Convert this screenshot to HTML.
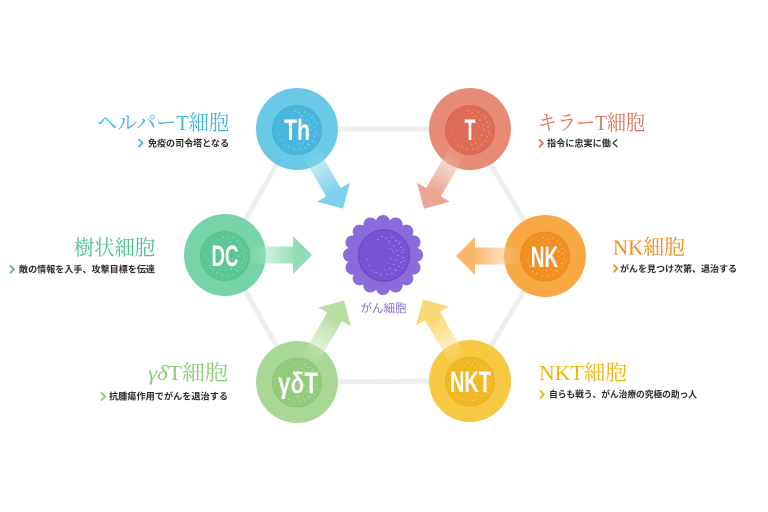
<!DOCTYPE html>
<html><head><meta charset="utf-8">
<style>
html,body{margin:0;padding:0;background:#fff;}
svg{display:block;}
.ttl{font-family:"Liberation Serif","Noto Serif CJK JP",serif;font-size:21px;}
.sub{font-family:"Liberation Sans","Noto Sans CJK JP",sans-serif;font-size:9.2px;font-weight:bold;fill:#2b2b2b;}
.nd{font-family:"Liberation Sans","DejaVu Sans",sans-serif;font-size:30px;font-weight:bold;fill:#fff;}
.chev{fill:none;stroke-width:1.8;stroke-linecap:round;stroke-linejoin:round;}
</style></head>
<body>
<svg width="768" height="512" viewBox="0 0 768 512" xmlns="http://www.w3.org/2000/svg">
<defs>
  <g id="sp" fill="#fff">
    <circle cx="8" cy="-18" r="0.7"/><circle cx="12" cy="-15" r="0.7"/><circle cx="15" cy="-12" r="0.7"/>
    <circle cx="17" cy="-8" r="0.7"/><circle cx="18" cy="-3" r="0.7"/><circle cx="19" cy="2" r="0.7"/>
    <circle cx="17" cy="7" r="0.7"/><circle cx="15" cy="11" r="0.7"/><circle cx="12" cy="15" r="0.7"/>
    <circle cx="8" cy="18" r="0.7"/><circle cx="3" cy="19" r="0.7"/><circle cx="-3" cy="19" r="0.7"/>
    <circle cx="-8" cy="17" r="0.7"/><circle cx="10" cy="-10" r="0.7"/><circle cx="13" cy="-5" r="0.7"/>
    <circle cx="14" cy="0" r="0.7"/><circle cx="12" cy="5" r="0.7"/><circle cx="10" cy="9" r="0.7"/>
    <circle cx="6" cy="13" r="0.7"/><circle cx="5" cy="-14" r="0.7"/><circle cx="2" cy="-17" r="0.7"/>
    <circle cx="-2" cy="-19" r="0.7"/><circle cx="16" cy="-14" r="0.6"/><circle cx="20" cy="-6" r="0.6"/>
    <circle cx="20" cy="5" r="0.6"/><circle cx="18" cy="12" r="0.6"/><circle cx="4" cy="8" r="0.6"/>
    <circle cx="7" cy="3" r="0.6"/><circle cx="9" cy="-4" r="0.6"/><circle cx="-12" cy="15" r="0.6"/>
    <circle cx="-15" cy="10" r="0.6"/><circle cx="6" cy="-7" r="0.6"/><circle cx="11" cy="14" r="0.6"/>
    <circle cx="1" cy="14" r="0.6"/><circle cx="-6" cy="-16" r="0.6"/><circle cx="-17" cy="4" r="0.6"/>
  </g>
  <linearGradient id="gTh" gradientUnits="userSpaceOnUse" x1="25" y1="0" x2="72" y2="0"><stop offset="0" stop-color="#8dd6ef" stop-opacity="0.1"/><stop offset="0.35" stop-color="#8dd6ef" stop-opacity="0.55"/><stop offset="1" stop-color="#7fd0ec"/></linearGradient>
  <linearGradient id="gT" gradientUnits="userSpaceOnUse" x1="25" y1="0" x2="72" y2="0"><stop offset="0" stop-color="#efb2a3" stop-opacity="0.1"/><stop offset="0.35" stop-color="#efb2a3" stop-opacity="0.55"/><stop offset="1" stop-color="#eaa593"/></linearGradient>
  <linearGradient id="gDC" gradientUnits="userSpaceOnUse" x1="25" y1="0" x2="72" y2="0"><stop offset="0" stop-color="#a3e3c4" stop-opacity="0.1"/><stop offset="0.35" stop-color="#a3e3c4" stop-opacity="0.55"/><stop offset="1" stop-color="#8fdcb6"/></linearGradient>
  <linearGradient id="gNK" gradientUnits="userSpaceOnUse" x1="25" y1="0" x2="72" y2="0"><stop offset="0" stop-color="#fbc58a" stop-opacity="0.1"/><stop offset="0.35" stop-color="#fbc58a" stop-opacity="0.55"/><stop offset="1" stop-color="#f9b56a"/></linearGradient>
  <linearGradient id="gGD" gradientUnits="userSpaceOnUse" x1="25" y1="0" x2="72" y2="0"><stop offset="0" stop-color="#c6e6b6" stop-opacity="0.1"/><stop offset="0.35" stop-color="#c6e6b6" stop-opacity="0.55"/><stop offset="1" stop-color="#b7dfa4"/></linearGradient>
  <linearGradient id="gNKT" gradientUnits="userSpaceOnUse" x1="25" y1="0" x2="72" y2="0"><stop offset="0" stop-color="#fbe08e" stop-opacity="0.1"/><stop offset="0.35" stop-color="#fbe08e" stop-opacity="0.55"/><stop offset="1" stop-color="#f9d772"/></linearGradient>
</defs>

<!-- hexagon connectors -->
<polygon points="297,129 470,129 545,256 470,381 297,382 225,255" fill="none" stroke="#eeeeee" stroke-width="5" stroke-linejoin="round"/>

<!-- cancer cell -->
<g fill="#8a6bd9">
  <circle cx="383" cy="255" r="35.3"/>
  <g id="bump"><circle cx="383" cy="222" r="7"/></g>
  <use href="#bump" transform="rotate(22.5 383 255)"/>
  <use href="#bump" transform="rotate(45 383 255)"/>
  <use href="#bump" transform="rotate(67.5 383 255)"/>
  <use href="#bump" transform="rotate(90 383 255)"/>
  <use href="#bump" transform="rotate(112.5 383 255)"/>
  <use href="#bump" transform="rotate(135 383 255)"/>
  <use href="#bump" transform="rotate(157.5 383 255)"/>
  <use href="#bump" transform="rotate(180 383 255)"/>
  <use href="#bump" transform="rotate(202.5 383 255)"/>
  <use href="#bump" transform="rotate(225 383 255)"/>
  <use href="#bump" transform="rotate(247.5 383 255)"/>
  <use href="#bump" transform="rotate(270 383 255)"/>
  <use href="#bump" transform="rotate(292.5 383 255)"/>
  <use href="#bump" transform="rotate(315 383 255)"/>
  <use href="#bump" transform="rotate(337.5 383 255)"/>
</g>
<circle cx="384" cy="255.5" r="25.5" fill="#7853d3" stroke="#6c47c6" stroke-width="1.2"/>
<use href="#sp" x="384" y="255.5" opacity="0.45"/>
<text x="383.5" y="312" text-anchor="middle" textLength="46" lengthAdjust="spacingAndGlyphs" style="font-family:'Liberation Sans','Noto Sans CJK JP',sans-serif;font-size:11.5px;fill:#8a6ad8;">がん細胞</text>

<!-- Th -->
<circle cx="297" cy="129" r="41" fill="#5ec5e4" fill-opacity="0.93"/>
<polygon transform="translate(297 129) rotate(60)" points="25,-8.5 73,-8.5 73,-19 92,0 73,19 73,8.5 25,8.5" fill="url(#gTh)"/>
<circle cx="297" cy="130" r="24.5" fill="#48b7de" stroke="#40acd5" stroke-width="0.8"/>
<use href="#sp" x="297" y="130" opacity="0.45"/>
<text class="nd" x="297" y="140" text-anchor="middle" textLength="26" lengthAdjust="spacingAndGlyphs">Th</text>

<!-- T -->
<circle cx="470" cy="129" r="41" fill="#e5826d" fill-opacity="0.93"/>
<polygon transform="translate(470 129) rotate(120)" points="25,-8.5 73,-8.5 73,-19 92,0 73,19 73,8.5 25,8.5" fill="url(#gT)"/>
<circle cx="470" cy="130" r="24.5" fill="#de6c55" stroke="#d6644d" stroke-width="0.8"/>
<use href="#sp" x="470" y="130" opacity="0.4"/>
<text class="nd" x="470" y="140" text-anchor="middle" textLength="11" lengthAdjust="spacingAndGlyphs">T</text>

<!-- DC -->
<circle cx="225" cy="255" r="41" fill="#6dd1a2" fill-opacity="0.93"/>
<polygon transform="translate(225 255) rotate(0)" points="25,-8.5 68,-8.5 68,-19 87,0 68,19 68,8.5 25,8.5" fill="url(#gDC)"/>
<circle cx="225" cy="256" r="24.5" fill="#5bc793" stroke="#53be8b" stroke-width="0.8"/>
<use href="#sp" x="225" y="256" opacity="0.4"/>
<text class="nd" x="225" y="266" text-anchor="middle" textLength="27" lengthAdjust="spacingAndGlyphs">DC</text>

<!-- NK -->
<circle cx="545" cy="256" r="41" fill="#f7a136" fill-opacity="0.93"/>
<polygon transform="translate(545 256) rotate(180)" points="25,-8.5 70,-8.5 70,-19 89,0 70,19 70,8.5 25,8.5" fill="url(#gNK)"/>
<circle cx="545" cy="256.5" r="24.5" fill="#f28f22" stroke="#ea871c" stroke-width="0.8"/>
<use href="#sp" x="545" y="256.5" opacity="0.4"/>
<text class="nd" x="544.5" y="267" text-anchor="middle" textLength="27.5" lengthAdjust="spacingAndGlyphs">NK</text>

<!-- gamma delta T -->
<circle cx="297" cy="382" r="41" fill="#a2d58e" fill-opacity="0.93"/>
<polygon transform="translate(297 382) rotate(-60)" points="25,-8.5 75,-8.5 75,-19 94,0 75,19 75,8.5 25,8.5" fill="url(#gGD)"/>
<circle cx="297" cy="382.5" r="24.5" fill="#91cc7b" stroke="#89c473" stroke-width="0.8"/>
<use href="#sp" x="297" y="382.5" opacity="0.4"/>
<text class="nd" x="298" y="393" text-anchor="middle" textLength="40" lengthAdjust="spacingAndGlyphs">γδT</text>

<!-- NKT -->
<circle cx="470" cy="381" r="41" fill="#f6c534" fill-opacity="0.93"/>
<polygon transform="translate(470 381) rotate(-120)" points="25,-8.5 75,-8.5 75,-19 94,0 75,19 75,8.5 25,8.5" fill="url(#gNKT)"/>
<circle cx="470" cy="381.5" r="24.5" fill="#f2b823" stroke="#eab01d" stroke-width="0.8"/>
<use href="#sp" x="470" y="381.5" opacity="0.4"/>
<text class="nd" x="470.5" y="392" text-anchor="middle" textLength="41" lengthAdjust="spacingAndGlyphs">NKT</text>

<!-- Labels -->
<text class="ttl" x="229" y="130" text-anchor="end" textLength="132" lengthAdjust="spacingAndGlyphs" fill="#3db5dc">ヘルパーT細胞</text>
<polyline class="chev" points="139,139.5 142.5,143 139,146.5" stroke="#3db5dc"/>
<text class="sub" x="229" y="146.3" text-anchor="end" textLength="81" lengthAdjust="spacingAndGlyphs">免疫の司令塔となる</text>

<text class="ttl" x="538" y="130" textLength="107" lengthAdjust="spacingAndGlyphs" fill="#e0705a">キラーT細胞</text>
<polyline class="chev" points="539.5,140 543,143.3 539.5,146.7" stroke="#e0705a"/>
<text class="sub" x="547" y="146.3" textLength="73" lengthAdjust="spacingAndGlyphs">指令に忠実に働く</text>

<text class="ttl" x="155" y="255" text-anchor="end" textLength="81" lengthAdjust="spacingAndGlyphs" fill="#4cc38d">樹状細胞</text>
<polyline class="chev" points="10.5,266 14,269.3 10.5,272.7" stroke="#4cc38d"/>
<text class="sub" x="155" y="272.5" text-anchor="end" textLength="136" lengthAdjust="spacingAndGlyphs">敵の情報を入手、攻撃目標を伝達</text>

<text class="ttl" x="613" y="254.5" textLength="72" lengthAdjust="spacingAndGlyphs" fill="#f08d1e">NK細胞</text>
<polyline class="chev" points="614,265.2 617.3,268.5 614,271.8" stroke="#f08d1e"/>
<text class="sub" x="620" y="272" textLength="117" lengthAdjust="spacingAndGlyphs">がんを見つけ次第、退治する</text>

<text class="ttl" x="228" y="380" text-anchor="end" textLength="80" lengthAdjust="spacingAndGlyphs" fill="#8ecb74"><tspan font-style="italic">γδ</tspan>T細胞</text>
<polyline class="chev" points="101.5,393 105,396.5 101.5,400" stroke="#8ecb74"/>
<text class="sub" x="228" y="399.5" text-anchor="end" textLength="119" lengthAdjust="spacingAndGlyphs">抗腫瘍作用でがんを退治する</text>

<text class="ttl" x="539" y="380" textLength="88" lengthAdjust="spacingAndGlyphs" fill="#f2b500">NKT細胞</text>
<polyline class="chev" points="540.5,391 544,394.5 540.5,398" stroke="#f2b500"/>
<text class="sub" x="549" y="397.3" textLength="148" lengthAdjust="spacingAndGlyphs">自らも戦う、がん治療の究極の助っ人</text>
</svg>
</body></html>
